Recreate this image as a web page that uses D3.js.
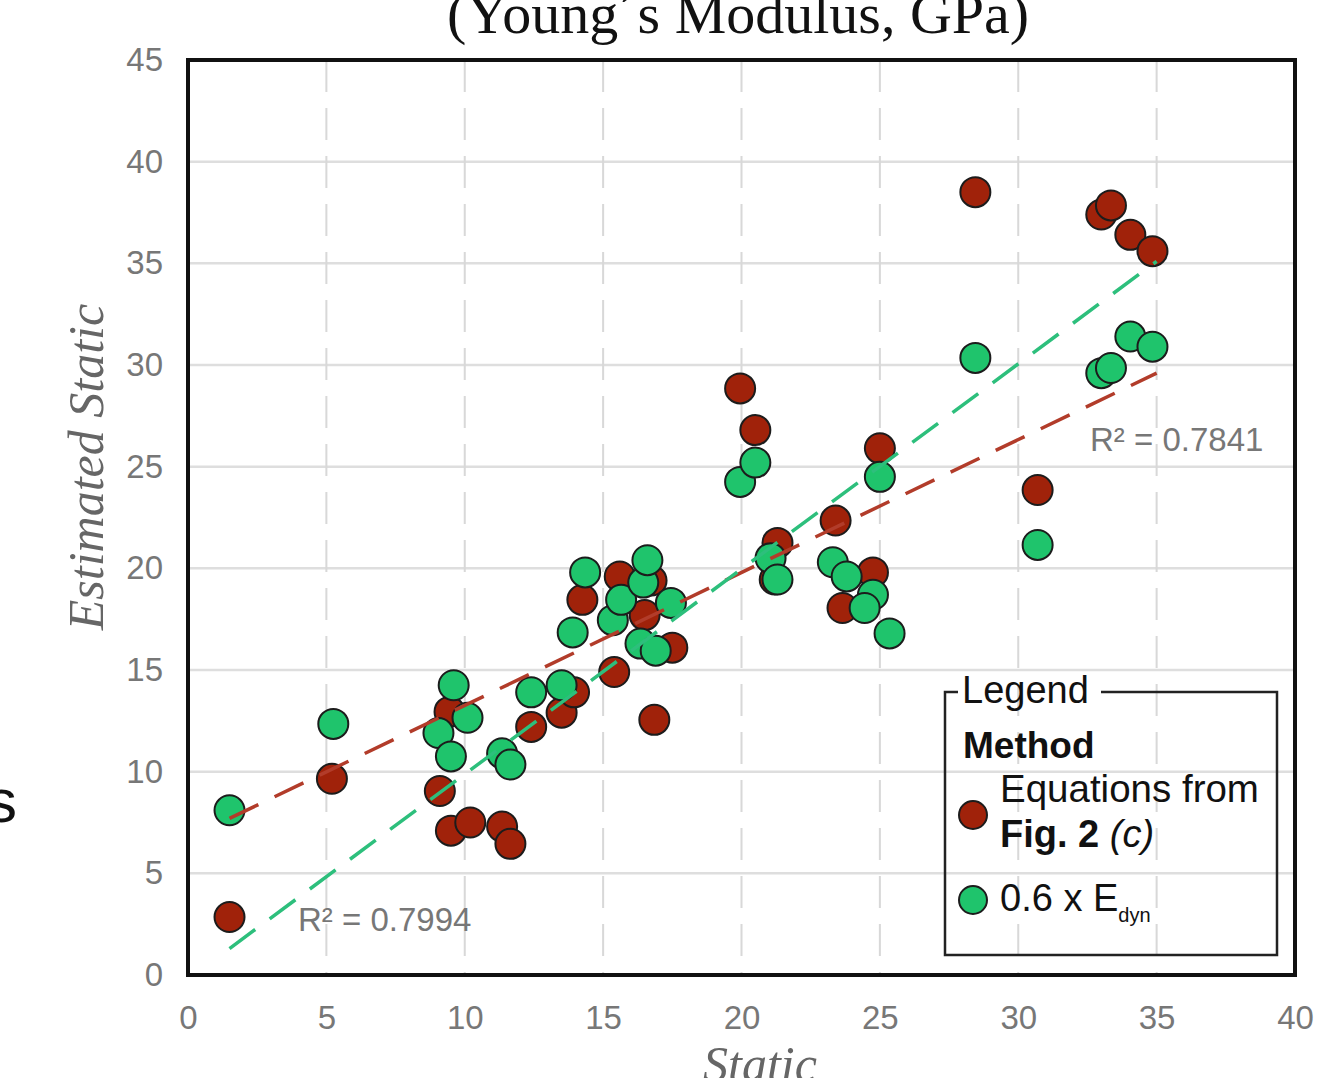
<!DOCTYPE html>
<html>
<head>
<meta charset="utf-8">
<script src="https://cdn.jsdelivr.net/npm/d3@7"></script>
<style>
  body { margin: 0; background: #fff; }
  svg { display: block; }
  .tick text { font-family: "Liberation Sans", Arial, sans-serif; fill: #777; }
</style>
</head>
<body>
<div id="chart"></div>
<script>
// Static vs estimated static Young's modulus (GPa)
var redPoints = [
	[1.5, 2.85], [5.2, 9.65], [9.1, 9.05], [9.5, 7.1], [10.2, 7.5], [11.35, 7.3],
	[11.65, 6.45], [9.45, 12.95], [12.4, 12.2], [13.5, 12.9], [13.95, 13.9],
	[14.25, 18.45], [15.4, 14.9], [15.6, 19.6], [16.75, 19.4], [16.5, 17.7],
	[17.5, 16.1], [16.85, 12.55], [19.95, 28.85], [20.5, 26.8], [21.3, 21.25],
	[21.2, 19.45], [23.4, 22.35], [23.65, 18.05], [24.75, 19.8], [25.0, 25.9],
	[28.45, 38.5], [30.7, 23.85], [33.0, 37.4], [33.35, 37.85], [34.05, 36.4],
	[34.85, 35.6]
];
var greenPoints = [
	[1.5, 8.1], [5.25, 12.35], [9.05, 11.9], [9.5, 10.75], [9.6, 14.25],
	[10.1, 12.65], [11.35, 10.9], [11.65, 10.35], [12.4, 13.9], [13.5, 14.25],
	[13.9, 16.85], [14.35, 19.8], [15.35, 17.45], [15.65, 18.45], [16.45, 19.3],
	[16.6, 20.4], [16.35, 16.3], [16.9, 15.95], [17.45, 18.3], [19.95, 24.25],
	[20.5, 25.2], [21.05, 20.5], [21.3, 19.45], [23.3, 20.3], [23.8, 19.6],
	[24.75, 18.7], [24.45, 18.05], [25.35, 16.8], [25.0, 24.5], [28.45, 30.35],
	[30.7, 21.15], [33.0, 29.6], [33.35, 29.85], [34.05, 31.4], [34.85, 30.9]
];
// linear trend lines (start / end)
var redTrend = [[1.5, 7.7], [35, 29.6]];
var greenTrend = [[1.5, 1.3], [35, 35.1]];
var xTicks = [0, 5, 10, 15, 20, 25, 30, 35, 40];
var yTicks = [0, 5, 10, 15, 20, 25, 30, 35, 40, 45];

var width = 1328, height = 1078;
var plotLeft = 188, plotRight = 1295, plotTop = 60, plotBottom = 975;

var x = d3.scaleLinear().domain([0, 40]).range([plotLeft, plotRight]);
var y = d3.scaleLinear().domain([0, 45]).range([plotBottom, plotTop]);

var svg = d3.select("#chart").append("svg")
	.attr("width", width)
	.attr("height", height);

// plot background
svg.append("rect")
	.attr("x", plotLeft).attr("y", plotTop)
	.attr("width", plotRight - plotLeft).attr("height", plotBottom - plotTop)
	.attr("fill", "#fff");

// grid lines
svg.append("g").selectAll("line")
	.data(yTicks.filter(function(d) { return d > 0 && d < 45; }))
	.enter().append("line")
	.attr("x1", plotLeft).attr("x2", plotRight)
	.attr("y1", function(d) { return y(d); })
	.attr("y2", function(d) { return y(d); })
	.attr("stroke", "#dedede")
	.attr("stroke-width", 2.5);

svg.append("g").selectAll("line")
	.data(xTicks.filter(function(d) { return d > 0 && d < 40; }))
	.enter().append("line")
	.attr("x1", function(d) { return x(d); })
	.attr("x2", function(d) { return x(d); })
	.attr("y1", plotTop).attr("y2", plotBottom)
	.attr("stroke", "#d8d8d8")
	.attr("stroke-width", 2)
	.attr("stroke-dasharray", "32,16");

// axes (labels only)
var xAxis = d3.axisBottom(x).tickValues(xTicks).tickSize(0).tickPadding(31);
var yAxis = d3.axisLeft(y).tickValues(yTicks).tickSize(0).tickPadding(25);

var gx = svg.append("g")
	.attr("transform", "translate(0," + plotBottom + ")")
	.call(xAxis);
var gy = svg.append("g")
	.attr("transform", "translate(" + plotLeft + ",0)")
	.call(yAxis);
[gx, gy].forEach(function(g) {
	g.select(".domain").remove();
	g.selectAll("text").style("font-size", "33px");
});

// points
function drawPoints(data, fill) {
	svg.append("g").selectAll("circle")
		.data(data)
		.enter().append("circle")
		.attr("cx", function(d) { return x(d[0]); })
		.attr("cy", function(d) { return y(d[1]); })
		.attr("r", 15)
		.attr("fill", fill)
		.attr("stroke", "#1c1c1c")
		.attr("stroke-width", 2);
}
drawPoints(redPoints, "#a0220a");
drawPoints(greenPoints, "#1fc46c");

// trend lines
var line = d3.line()
	.x(function(d) { return x(d[0]); })
	.y(function(d) { return y(d[1]); });

svg.append("path")
	.attr("d", line(redTrend))
	.attr("fill", "none")
	.attr("stroke", "#b23c2a")
	.attr("stroke-width", 3.5)
	.attr("stroke-dasharray", "32,18");

svg.append("path")
	.attr("d", line(greenTrend))
	.attr("fill", "none")
	.attr("stroke", "#2dbf7c")
	.attr("stroke-width", 3.5)
	.attr("stroke-dasharray", "32,18");

// R² labels
svg.append("text")
	.attr("x", 298).attr("y", 931)
	.style("font-family", "Liberation Sans, Arial, sans-serif")
	.style("font-size", "33px").style("fill", "#777")
	.text("R² = 0.7994");
svg.append("text")
	.attr("x", 1090).attr("y", 451)
	.style("font-family", "Liberation Sans, Arial, sans-serif")
	.style("font-size", "33px").style("fill", "#777")
	.text("R² = 0.7841");

// frame
svg.append("rect")
	.attr("x", plotLeft).attr("y", plotTop)
	.attr("width", plotRight - plotLeft).attr("height", plotBottom - plotTop)
	.attr("fill", "none")
	.attr("stroke", "#111")
	.attr("stroke-width", 4);

// legend
var lg = svg.append("g")
	.style("font-family", "Liberation Sans, Arial, sans-serif")
	.style("fill", "#111");

lg.append("path")
	.attr("d", "M958,692H945V955H1277V692H1101")
	.attr("fill", "none")
	.attr("stroke", "#222")
	.attr("stroke-width", 2.5);

lg.append("text").attr("x", 962).attr("y", 703)
	.style("font-size", "38px").text("Legend");
lg.append("text").attr("x", 963).attr("y", 758)
	.style("font-size", "37px").style("font-weight", "bold").text("Method");
lg.append("text").attr("x", 1000).attr("y", 802)
	.style("font-size", "38.5px").text("Equations from");

var fig = lg.append("text").attr("x", 1000).attr("y", 847)
	.style("font-size", "38px");
fig.append("tspan").style("font-weight", "bold").text("Fig. 2 ");
fig.append("tspan").style("font-style", "italic").text("(c)");

var edyn = lg.append("text").attr("x", 1000).attr("y", 911)
	.style("font-size", "38px");
edyn.append("tspan").text("0.6 x E");
edyn.append("tspan").attr("dy", 11).style("font-size", "20px").text("dyn");

lg.append("circle").attr("cx", 973).attr("cy", 815).attr("r", 14)
	.attr("fill", "#a0220a").attr("stroke", "#1c1c1c").attr("stroke-width", 2);
lg.append("circle").attr("cx", 973).attr("cy", 900).attr("r", 14)
	.attr("fill", "#1fc46c").attr("stroke", "#1c1c1c").attr("stroke-width", 2);

// titles
svg.append("text")
	.attr("x", 738).attr("y", 33)
	.attr("text-anchor", "middle")
	.style("font-family", "Liberation Serif, Times New Roman, serif")
	.style("font-size", "58px")
	.style("fill", "#111")
	.text("(Young´s Modulus, GPa)");

svg.append("text")
	.attr("transform", "translate(103,467) rotate(-90)")
	.attr("text-anchor", "middle")
	.style("font-family", "Liberation Serif, Times New Roman, serif")
	.style("font-style", "italic")
	.style("font-size", "50px")
	.style("fill", "#666")
	.text("Estimated Static");

svg.append("text")
	.attr("x", 760).attr("y", 1081)
	.attr("text-anchor", "middle")
	.style("font-family", "Liberation Serif, Times New Roman, serif")
	.style("font-style", "italic")
	.style("font-size", "50px")
	.style("fill", "#666")
	.text("Static");

// leftover letter at the left edge
svg.append("text")
	.attr("x", 17).attr("y", 822)
	.attr("text-anchor", "end")
	.style("font-family", "Liberation Sans, Arial, sans-serif")
	.style("font-size", "62px")
	.style("fill", "#111")
	.text("s");
</script>
</body>
</html>
